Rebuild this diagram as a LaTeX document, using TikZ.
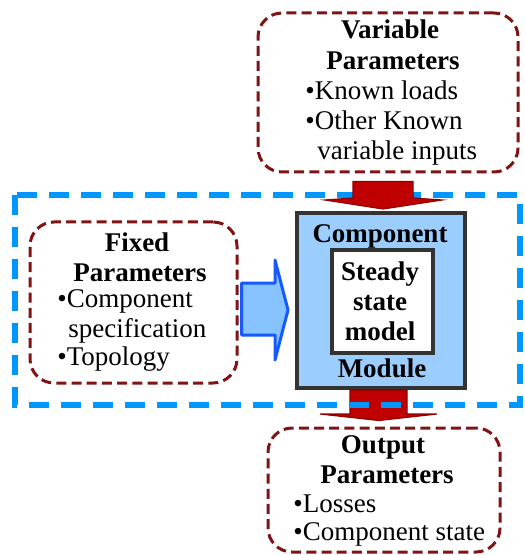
\documentclass[tikz,border=0pt]{standalone}
\usepackage{fontspec}
\setmainfont{Liberation Serif}
\usetikzlibrary{calc}
\definecolor{boxred}{RGB}{128,20,20}
\definecolor{dashblue}{RGB}{0,150,255}
\definecolor{modfill}{RGB}{155,205,255}
\definecolor{arrred}{RGB}{192,0,0}
\definecolor{arrblue}{RGB}{20,90,255}
\definecolor{arrfill}{RGB}{135,195,255}
\tikzset{
  pbox/.style={draw=boxred, line width=1.5pt, dash pattern=on 5pt off 2.6pt, rounded corners=12pt},
  modbox/.style={draw=black!80, line width=2pt},
  head/.style={font=\fontsize{13.5}{15}\selectfont\bfseries, inner sep=0pt, anchor=mid, yshift=-1.5pt},
  item/.style={font=\fontsize{13.5}{15}\selectfont, inner sep=0pt, anchor=mid west, yshift=-1.5pt},
  redarrow/.style={fill=arrred, draw=arrred!75!black, line width=0.6pt},
  bluearrow/.style={fill=arrfill, draw=arrblue, line width=1.5pt, line join=round}
}
\begin{document}
\begin{tikzpicture}[x=0.5pt, y=-0.5pt]
    \useasboundingbox (0,0) rectangle (524,555);
    \node(varp)[pbox, minimum width=130pt, minimum height=79.5pt] at (388,92.5) {};
    \node(fixp)[pbox, minimum width=103.5pt, minimum height=80.5pt] at (133.5,302.5) {};
    \node(outp)[pbox, minimum width=116pt, minimum height=62pt] at (384,490) {};
    \node(comp)[modbox, fill=modfill, minimum width=84pt, minimum height=87.5pt] at (381,300.5) {};
    \node(model)[modbox, fill=white, minimum width=50.5pt, minimum height=51.5pt] at (382.5,301.5) {};
    % text
    \node(v1)[head] at (390,31) {Variable};
    \node(v2)[head] at (393,62) {Parameters};
    \node(v3)[item] at (305,92) {•Known loads};
    \node(v4)[item] at (305,122) {•Other Known};
    \node(v5)[item] at (317,152) {variable inputs};
    \node(f1)[head] at (137,244) {Fixed};
    \node(f2)[head] at (140,274) {Parameters};
    \node(f3)[item] at (57,300) {•Component};
    \node(f4)[item] at (68,330) {specification};
    \node(f5)[item] at (57,358) {•Topology};
    \node(c1)[head] at (380,235) {Component};
    \node(c2)[head] at (380,273) {Steady};
    \node(c3)[head] at (380,303) {state};
    \node(c4)[head] at (380,333) {model};
    \node(c5)[head] at (382,370) {Module};
    \node(o1)[head] at (383,446) {Output};
    \node(o2)[head] at (387,476) {Parameters};
    \node(o3)[item] at (293,505) {•Losses};
    \node(o4)[item] at (293,533) {•Component state};
    % arrows
    \draw[redarrow] ($(comp.south)+(-31,0)$) -- ($(comp.south)+(26,0)$)
      -- ($(comp.south)+(26,24)$) -- ($(comp.south)+(56,24)$)
      -- ($(comp.south |- outp.north)+(-2,-6)$) -- ($(comp.south)+(-61,24)$)
      -- ($(comp.south)+(-31,24)$) -- cycle;
    \draw[dashblue, line width=3pt, dash pattern=on 10pt off 6pt] (15,195) rectangle (520,405);
    \draw[redarrow] ($(varp.south)+(-35,8)$) -- ($(varp.south)+(25,8)$)
      -- ($(varp.south |- comp.north)+(25,-13)$) -- ($(varp.south |- comp.north)+(54,-11)$)
      -- ($(varp.south |- comp.north)+(-5,-2)$) -- ($(varp.south |- comp.north)+(-63,-11)$)
      -- ($(varp.south |- comp.north)+(-35,-13)$) -- cycle;
    \draw[bluearrow] ($(fixp.east)+(3,-19.5)$) -- ($(comp.west |- fixp.east)+(-20,-19.5)$)
      -- ($(comp.west |- fixp.east)+(-20,-42.5)$) -- ($(comp.west |- fixp.east)+(-7,7.5)$)
      -- ($(comp.west |- fixp.east)+(-20,57.5)$) -- ($(comp.west |- fixp.east)+(-20,32.5)$)
      -- ($(fixp.east)+(3,32.5)$) -- cycle;
\end{tikzpicture}
\end{document}
